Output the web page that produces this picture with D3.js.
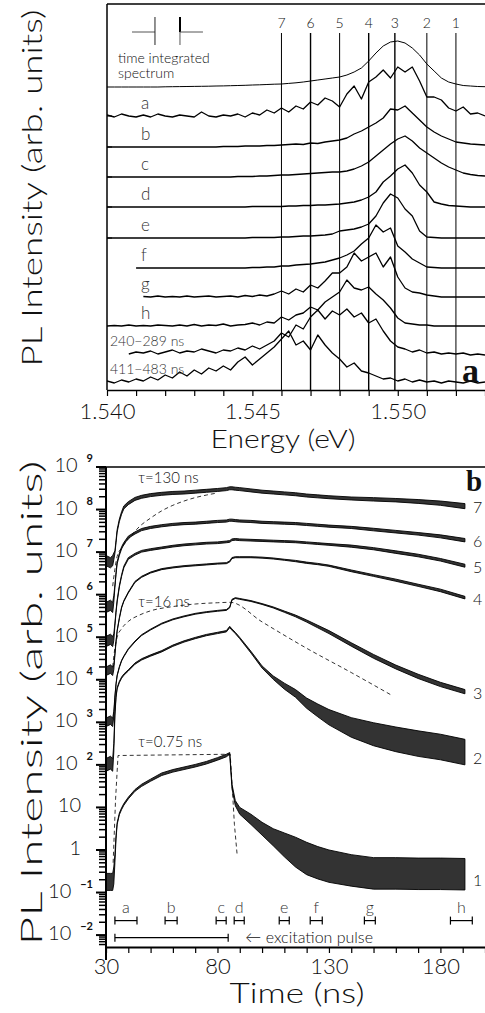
<!DOCTYPE html>
<html>
<head>
<meta charset="utf-8">
<script src="https://cdn.jsdelivr.net/npm/d3@7"></script>
<style>
body { margin: 0; background: #fff; }
svg text { font-family: Lato, "DejaVu Sans", sans-serif; font-weight: 300; fill: #111; }
.serif { font-family: "Liberation Serif", "DejaVu Serif", serif; font-weight: bold; }
</style>
</head>
<body>
<div id="chart"></div>
<script>
const width = 485;
const height = 1013;

// ---------- panel a : spectra (height above own baseline, arb. units) ----------
const eStart = 1.540;
const eStep = 0.00025;

const specLabels  = ["time integrated spectrum", "a", "b", "c", "d", "e", "f", "g", "h", "240\u2212289  ns", "411\u2212483  ns"];
const specOffsets = [303, 274, 243, 213, 183, 152, 122, 93, 64, 35, 7];
const specStart   = [1.540, 1.540, 1.540, 1.540, 1.540, 1.540, 1.541, 1.5412, 1.540, 1.5406, 1.540];

const specTI = [0,0,0,0,0,0,0,0, 0.2,0.3,0.4,0.5,0.6,0.7,0.8,1.0, 1.1,1.3,1.5,1.7,2.0,2.2,2.5,2.8,
  3.0,3.6,4.2,5.0,6.0,7.0,8.0,9.0, 10,12,15,19,26,34,41,45, 46,44,39,32,23,16,9,5, 3,1.5,1,0.5,0.3];
const specA = [1,-1,2,0,-1,1,-1,2, 0,-1,1,0,-1,4,0,-1, 1,0,2,-1,3,1,6,3,
  8,4,10,7,14,11,18,15, 9,22,30,17,34,39,46,38, 49,44,49,35,19,19,16,8, 5,9,2,3,0];
const specB = [0,0,0,0,0,0,0,0, 0,0,0,0,0,0,0,0, 0.5,0.5,0.5,1,1,1,1.5,1.5,
  2,2.5,3,2.5,4,3.5,5,6, 7,9,13,16,20,24,29,38, 37,41,34,27,20,15,11,8, 5,4,3,2.5,2];
const specC = [0,0,0,0,0,0,0,0, 0,0,0,0,0,0,0,0, 0,0,0.5,0.5,0.5,1,1,1.5,
  2,2,2.5,3,3.5,4,4.5,5, 5,6,8,11,15,21,27,33, 38,41,36,29,24,19,14,10, 7,4,2.5,1.5,1];
const specD = [0,0,0,0,0,0,0,0, 0,0,0,0,0,0,0,0, 0,0,0,0,0.5,0.5,0.5,0.5,
  0.5,1,1,1.5,1.5,2,2,2.5, 3,4,5,7,10,15,25,31, 38,42,34,22,15,5,3,1.5, 1,0.5,0,0,0];
const specE = [0,0,0,0,0,0,0,0, 0,0,0,0,0,0,0,0, 0,0,0,0,0.5,0.5,0.5,0.5,
  1,1,1.5,2,2,2.5,3,4, 7,8,9,11,14,22,35,44, 40,29,22,7,1,0.5,0,0, 0,0,0,0,0];
const specF = [0,0,0,0,0,0,0,0, 0,0,0,0,0,0,0,0, 0,0,0,0,0.5,0.5,1,1,
  2,2,3,3.5,4,5,6,8, 10,13,17,24,30,43,36,40, 22,16,9,5,1,0.5,0,0, 0,0,0,0,0];
const specG = [0,0,0,0,0,0.5,0,1, 0,0.5,0,1,0,0.5,1,0, 0.5,1,0,1.5,0.5,2,1,3,
  6,3,8,5,12,9,16,24, 24,30,44,36,40,44,30,40, 20,9,5,4,2,1,0,0, 0,0,0,0,0];
const specH = [0,0.5,0,1,0,0.5,0,1, 0.5,0,1,0,1.5,0,1,0.5, 2,0,1,1.5,3,1,4,3,
  9,6,11,13,19,16,24,29, 34,46,38,36,39,32,26,18, 8,3,2,1,1,0,0,0, 0,0,0,0,0];
const spec240 = [0,0,0,1,3,2,4,1, 3,5,2,4,3,6,4,2, 5,4,7,5,9,6,10,14,
  22,18,30,26,38,45,36,44, 40,46,38,42,32,36,24,14, 8,6,3,5,2,3,1,2, 1,2,0,1,0];
const spec411 = [2,0,3,1,4,2,6,3, 8,5,11,7,13,9,15,12, 17,13,21,26,18,24,30,36,
  44,52,38,42,33,48,38,30, 24,16,20,12,10,7,4,5, 2,4,1,3,1,2,0,2, 1,0,2,0,1];

const spectra = [specTI, specA, specB, specC, specD, specE, specF, specG, specH, spec240, spec411];

// energies of the vertical marker lines
const lineEnergies = [1.546, 1.547, 1.548, 1.549, 1.5499, 1.551, 1.552];
const lineLabels   = ["7", "6", "5", "4", "3", "2", "1"];

// ---------- panel b : decays (log10 of intensity, noise half width in decades) ----------
const tGrid = [30, 32, 33, 33.5, 34, 34.5, 35, 36, 37, 38, 40, 43, 46, 50, 55, 60, 65, 70, 75, 80,
  84, 85.5, 86.5, 88, 90, 95, 100, 105, 110, 115, 120, 125, 130, 140, 150, 160, 170, 180, 191];

const c7L = [6.8,6.75,6.8,6.9,7.0,7.25,7.5,7.75,7.92,8.05, 8.15,8.25,8.3,8.34,8.37,8.39,8.4,8.42,8.44,8.46,
  8.48,8.5,8.5,8.49,8.48,8.45,8.42,8.4,8.38,8.36, 8.33,8.31,8.29,8.26,8.24,8.22,8.19,8.15,8.08];
const c7W = [0.12,0.12,0.12,0.08,0.03,0.03,0.03,0.03,0.03,0.035, 0.035,0.035,0.035,0.035,0.035,0.035,0.035,0.035,0.035,0.035,
  0.035,0.035,0.035,0.035,0.035,0.035,0.035,0.035,0.035,0.035, 0.035,0.035,0.035,0.035,0.04,0.04,0.045,0.05,0.06];
const c6L = [5.7,5.75,5.7,5.9,6.2,6.5,6.75,6.95,7.1,7.2, 7.35,7.45,7.53,7.58,7.62,7.65,7.67,7.68,7.7,7.72,
  7.73,7.75,7.75,7.74,7.73,7.72,7.7,7.69,7.68,7.67, 7.65,7.63,7.61,7.58,7.53,7.48,7.43,7.37,7.28];
const c6W = [0.12,0.12,0.12,0.08,0.03,0.025,0.025,0.025,0.025,0.025, 0.025,0.025,0.025,0.025,0.025,0.025,0.025,0.025,0.025,0.025,
  0.025,0.025,0.025,0.025,0.025,0.025,0.025,0.025,0.025,0.025, 0.025,0.025,0.025,0.025,0.03,0.03,0.03,0.035,0.04];
const c5L = [4.9,4.95,4.9,5.0,5.3,5.6,5.85,6.2,6.45,6.65, 6.85,6.95,7.02,7.06,7.1,7.14,7.17,7.19,7.21,7.22,
  7.24,7.25,7.29,7.3,7.29,7.28,7.27,7.26,7.25,7.24, 7.22,7.2,7.18,7.14,7.08,7.0,6.92,6.82,6.68];
const c5W = [0.12,0.12,0.12,0.08,0.03,0.02,0.02,0.02,0.02,0.02, 0.02,0.02,0.02,0.02,0.02,0.02,0.02,0.02,0.02,0.02,
  0.02,0.02,0.02,0.02,0.02,0.02,0.02,0.02,0.02,0.02, 0.02,0.02,0.02,0.025,0.025,0.03,0.03,0.03,0.035];
const c4L = [4.2,4.25,4.2,4.3,4.6,4.9,5.15,5.45,5.7,5.85, 6.05,6.3,6.42,6.52,6.6,6.64,6.67,6.69,6.71,6.73,
  6.74,6.78,6.86,6.88,6.88,6.88,6.87,6.85,6.82,6.79, 6.75,6.72,6.68,6.56,6.45,6.34,6.22,6.1,5.93];
const c4W = [0.1,0.1,0.1,0.06,0.02,0.012,0.012,0.012,0.012,0.012, 0.012,0.012,0.012,0.012,0.012,0.012,0.012,0.012,0.012,0.012,
  0.012,0.012,0.012,0.012,0.012,0.012,0.012,0.012,0.012,0.015, 0.015,0.015,0.015,0.02,0.02,0.025,0.025,0.03,0.03];
const c3L = [3.0,3.05,3.0,3.2,3.6,3.9,4.1,4.3,4.45,4.55, 4.72,4.9,5.05,5.18,5.32,5.42,5.49,5.55,5.59,5.62,
  5.64,5.7,5.88,5.92,5.9,5.85,5.78,5.7,5.6,5.5, 5.38,5.25,5.12,4.83,4.55,4.3,4.08,3.89,3.72];
const c3W = [0.1,0.1,0.1,0.06,0.02,0.01,0.01,0.01,0.01,0.01, 0.01,0.01,0.01,0.01,0.01,0.01,0.01,0.01,0.01,0.01,
  0.01,0.01,0.01,0.01,0.01,0.01,0.01,0.012,0.015,0.02, 0.025,0.03,0.035,0.04,0.045,0.045,0.05,0.05,0.05];
const c2L = [2.0,2.05,2.0,2.4,3.2,3.6,3.8,3.95,4.05,4.12, 4.22,4.38,4.48,4.57,4.67,4.8,4.9,4.98,5.05,5.1,
  5.14,5.24,5.18,5.1,4.98,4.65,4.3,4.05,3.85,3.68, 3.45,3.28,3.12,2.88,2.72,2.6,2.5,2.42,2.3];
const c2W = [0.15,0.15,0.15,0.1,0.05,0.015,0.015,0.015,0.015,0.015, 0.015,0.015,0.015,0.015,0.015,0.015,0.015,0.015,0.015,0.015,
  0.015,0.015,0.015,0.015,0.015,0.02,0.025,0.04,0.07,0.09, 0.12,0.15,0.18,0.23,0.27,0.29,0.3,0.3,0.3];
const c1L = [-0.75,-0.75,-0.75,-0.6,-0.2,0.3,0.62,0.85,0.97,1.07, 1.22,1.4,1.52,1.64,1.78,1.86,1.92,1.98,2.05,2.14,
  2.22,2.27,1.5,1.1,0.92,0.72,0.5,0.3,0.12,-0.05, -0.2,-0.3,-0.38,-0.48,-0.55,-0.55,-0.56,-0.56,-0.57];
const c1W = [0.2,0.2,0.2,0.2,0.1,0.04,0.02,0.02,0.02,0.02, 0.02,0.02,0.025,0.025,0.03,0.03,0.03,0.03,0.03,0.03,
  0.03,0.02,0.05,0.06,0.08,0.12,0.15,0.2,0.28,0.35, 0.38,0.38,0.38,0.37,0.37,0.37,0.37,0.37,0.37];

const curveLabels = ["7", "6", "5", "4", "3", "2", "1"];
const curveL = [c7L, c6L, c5L, c4L, c3L, c2L, c1L];
const curveW = [c7W, c6W, c5W, c4W, c3W, c2W, c1W];

// dashed fits
const fit7T = [33, 34, 35, 37, 40, 45, 50, 55, 60, 65, 70, 75, 80];
const fit7L = [6.2, 6.6, 6.9, 7.1, 7.3, 7.6, 7.8, 7.97, 8.1, 8.2, 8.28, 8.34, 8.39];
const fit3T = [33, 34, 35, 37, 40, 45, 50, 60, 70, 80, 85.7, 100, 120, 140, 158];
const fit3L = [4.3, 4.75, 5.0, 5.2, 5.37, 5.52, 5.62, 5.72, 5.78, 5.81, 5.82, 5.36, 4.74, 4.17, 3.64];
const fit1T = [33.2, 34.3, 35.4, 85.7, 86.6, 87.6, 88.8];
const fit1L = [-0.3, 1.2, 2.22, 2.25, 1.5, 0.6, -0.1];
const fitLabels = ["\u03c4=130  ns", "\u03c4=16  ns", "\u03c4=0.75  ns"];

// time windows of the spectra and the excitation pulse (ns)
const windowLabels = ["a", "b", "c", "d", "e", "f", "g", "h"];
const windowStart  = [34.0, 56.5, 79.4, 87.5, 107.7, 121.6, 145.9, 184.5];
const windowEnd    = [43.9, 61.9, 83.9, 92.0, 112.2, 127.0, 150.8, 194.3];
const pulse = [34.0, 84.8];

const svg = d3.select("#chart").append("svg")
   .attr("width", width)
   .attr("height", height);

// ================= panel a =================
const xA = d3.scaleLinear().domain([1.540, 1.553]).range([107, 485]);
const yA = d3.scaleLinear().domain([0, 386]).range([390, 4]);

svg.append("clipPath").attr("id", "clipA")
   .append("rect").attr("x", xA(1.540)).attr("y", yA(386)).attr("width", 378).attr("height", 386);
svg.append("clipPath").attr("id", "clipB")
   .append("rect").attr("x", 106).attr("y", 467).attr("width", 379).attr("height", 480);

const gA = svg.append("g").attr("clip-path", "url(#clipA)");

// vertical marker lines
gA.selectAll("line.mark")
   .data(lineEnergies)
   .enter()
   .append("line")
   .attr("x1", d => xA(d)).attr("x2", d => xA(d))
   .attr("y1", yA(357)).attr("y2", yA(0))
   .attr("stroke", "#000")
   .attr("stroke-width", (d, i) => (i == 1 || i == 3 || i == 4) ? 1.4 : 1);

const lineA = d3.line().x(d => xA(d[0])).y(d => yA(d[1]));
spectra.forEach((vals, k) => {
   const pts = [];
   vals.forEach((v, i) => {
      const e = eStart + i * eStep;
      if (e >= specStart[k] - 1e-9) pts.push([e, specOffsets[k] + v]);
   });
   gA.append("path")
      .attr("d", lineA(pts))
      .attr("fill", "none")
      .attr("stroke", "#000")
      .attr("stroke-width", k == 0 ? 1 : 1.3)
      .attr("stroke-linejoin", "round");
});

svg.selectAll("text.lineLabel")
   .data(lineLabels)
   .enter()
   .append("text")
   .attr("x", (d, i) => xA(lineEnergies[i]))
   .attr("y", 28)
   .attr("text-anchor", "middle")
   .style("font-size", "14px")
   .text(d => d);

// resolution marker top left
const res = [1.54086, 1.54165, 1.54251, 1.5433];
const resG = svg.append("g").attr("stroke", "#555").attr("stroke-width", 1);
resG.append("line").attr("x1", xA(res[0])).attr("x2", xA(res[1])).attr("y1", yA(358)).attr("y2", yA(358));
resG.append("line").attr("x1", xA(res[1])).attr("x2", xA(res[1])).attr("y1", yA(373)).attr("y2", yA(345)).attr("stroke", "#222");
resG.append("line").attr("x1", xA(res[2])).attr("x2", xA(res[2])).attr("y1", yA(373)).attr("y2", yA(345));
resG.append("line").attr("x1", xA(res[2])).attr("x2", xA(res[2])).attr("y1", yA(373)).attr("y2", yA(358)).attr("stroke", "#000").attr("stroke-width", 2);
resG.append("line").attr("x1", xA(res[2])).attr("x2", xA(res[3])).attr("y1", yA(358)).attr("y2", yA(358));

// spectrum labels
svg.append("text").attr("x", 118).attr("y", 63).style("font-size", "14px").text("time integrated");
svg.append("text").attr("x", 118).attr("y", 78).style("font-size", "14px").text("spectrum");
specLabels.forEach((lab, k) => {
   if (k == 0) return;
   const long = k >= 9;
   svg.append("text")
      .attr("x", long ? 110 : 141)
      .attr("y", yA(specOffsets[k] + (long ? 9 : 7)))
      .style("font-size", long ? "14px" : "17px")
      .style("fill", "#333")
      .text(lab);
});

// frame a
svg.append("line").attr("x1", 107).attr("x2", 107).attr("y1", yA(386)).attr("y2", yA(0)).attr("stroke", "#000").attr("stroke-width", 1.5);
svg.append("line").attr("x1", 107).attr("x2", 485).attr("y1", yA(386)).attr("y2", yA(386)).attr("stroke", "#000").attr("stroke-width", 1.5);
svg.selectAll("line.ltick")
   .data(specOffsets.slice(1, 6))
   .enter()
   .append("line")
   .attr("x1", 107).attr("x2", 112)
   .attr("y1", d => yA(d)).attr("y2", d => yA(d))
   .attr("stroke", "#000");

const axA = svg.append("g")
   .attr("transform", `translate(0,${yA(0)})`)
   .call(d3.axisBottom(xA)
      .tickValues(d3.range(0, 14).map(i => 1.540 + i * 0.001))
      .tickSize(6)
      .tickSizeOuter(0)
      .tickFormat((d, i) => (i % 5 == 0) ? d3.format(".3f")(d) : ""));
axA.select(".domain").attr("stroke-width", 1.5);
axA.selectAll(".tick line").attr("stroke-width", 1.2);
axA.selectAll(".tick text").style("font-size", "22px").attr("dy", "0.9em").attr("fill", "#111")
   .style("font-family", "Lato, 'DejaVu Sans', sans-serif").style("font-weight", 300);

svg.append("text").attr("class", "serif").attr("x", 462).attr("y", 382).style("font-size", "34px").text("a");

svg.append("text")
   .attr("x", 283).attr("y", 448)
   .attr("text-anchor", "middle")
   .attr("textLength", 145).attr("lengthAdjust", "spacingAndGlyphs")
   .style("font-size", "26px")
   .text("Energy  (eV)");

svg.append("text")
   .attr("transform", "translate(42,188) rotate(-90)")
   .attr("text-anchor", "middle")
   .attr("textLength", 357).attr("lengthAdjust", "spacingAndGlyphs")
   .style("font-size", "28px")
   .text("PL  Intensity  (arb.  units)");

// ================= panel b =================
const xB = d3.scaleLinear().domain([30, 200]).range([106, 485]);
const yB = d3.scaleLog().domain([Math.pow(10, -2.28), 1e9]).range([947, 467]);
const yL = L => yB(Math.pow(10, L));

const gB = svg.append("g").attr("clip-path", "url(#clipB)");

const band = d3.area()
   .x(d => xB(d.t))
   .y0(d => yL(d.L - d.W))
   .y1(d => yL(d.L + d.W));

curveL.forEach((L, k) => {
   const pts = tGrid.map((t, i) => ({t: t, L: L[i], W: curveW[k][i]}));
   gB.append("path")
      .attr("d", band(pts))
      .attr("fill", "#000")
      .attr("fill-opacity", 0.8)
      .attr("stroke", "#000")
      .attr("stroke-width", 0.9)
      .attr("stroke-linejoin", "round");
});

const fitLine = d3.line().x(d => xB(d[0])).y(d => yL(d[1]));
[[fit7T, fit7L], [fit3T, fit3L], [fit1T, fit1L]].forEach((f, k) => {
   gB.append("path")
      .attr("d", fitLine.curve(k == 2 ? d3.curveLinear : d3.curveMonotoneX)(f[0].map((t, i) => [t, f[1][i]])))
      .attr("fill", "none")
      .attr("stroke", "#000")
      .attr("stroke-width", 0.8)
      .attr("stroke-dasharray", "4,3");
});

const fitLabelL = [8.62, 5.71, 2.41];
fitLabels.forEach((lab, k) => {
   svg.append("text")
      .attr("x", xB(44.5)).attr("y", yL(fitLabelL[k]))
      .style("font-size", "15px")
      .text(lab);
});

// curve numbers at right
curveLabels.forEach((lab, k) => {
   const L = curveL[k];
   svg.append("text")
      .attr("x", 473).attr("y", yL(L[L.length - 1]) + (k >= 5 ? 6 : 1) + 6)
      .style("font-size", "16px")
      .style("fill", "#111")
      .text(lab);
});

// time windows
const winY = yL(-1.66);
const gW = svg.append("g").attr("stroke", "#000").attr("stroke-width", 1.2);
windowStart.forEach((s, i) => {
   const x0 = xB(s), x1 = xB(windowEnd[i]);
   gW.append("line").attr("x1", x0).attr("x2", x1).attr("y1", winY).attr("y2", winY);
   gW.append("line").attr("x1", x0).attr("x2", x0).attr("y1", winY - 4).attr("y2", winY + 4);
   gW.append("line").attr("x1", x1).attr("x2", x1).attr("y1", winY - 4).attr("y2", winY + 4);
   svg.append("text")
      .attr("x", (x0 + x1) / 2).attr("y", yL(-1.47))
      .attr("text-anchor", "middle")
      .style("font-size", "16px")
      .style("fill", "#333")
      .text(windowLabels[i]);
});
const pY = yL(-2.06);
gW.append("line").attr("x1", xB(pulse[0])).attr("x2", xB(pulse[1])).attr("y1", pY).attr("y2", pY);
gW.append("line").attr("x1", xB(pulse[0])).attr("x2", xB(pulse[0])).attr("y1", pY - 4).attr("y2", pY + 4);
gW.append("line").attr("x1", xB(pulse[1])).attr("x2", xB(pulse[1])).attr("y1", pY - 4).attr("y2", pY + 4);
svg.append("text")
   .attr("x", xB(92.5)).attr("y", pY + 5)
   .style("font-size", "16px")
   .text("\u2190 excitation  pulse");

// frame b
svg.append("line").attr("x1", 106).attr("x2", 106).attr("y1", 467).attr("y2", 960).attr("stroke", "#000").attr("stroke-width", 2);
svg.append("line").attr("x1", 106).attr("x2", 485).attr("y1", 467).attr("y2", 467).attr("stroke", "#000").attr("stroke-width", 1.5);

// log ticks
const minorTicks = [];
const majorTicks = [];
for (let k = -3; k <= 8; k++) {
   for (let m = 1; m <= 9; m++) {
      const v = m * Math.pow(10, k);
      if (v < yB.domain()[0] || v > yB.domain()[1]) continue;
      (m == 1 ? majorTicks : minorTicks).push(v);
   }
}
majorTicks.push(1e9);
svg.selectAll("line.minor")
   .data(minorTicks)
   .enter()
   .append("line")
   .attr("x1", 99).attr("x2", 106)
   .attr("y1", d => yB(d)).attr("y2", d => yB(d))
   .attr("stroke", "#000").attr("stroke-width", 1.5);
svg.selectAll("line.major")
   .data(majorTicks)
   .enter()
   .append("line")
   .attr("x1", 96).attr("x2", 106)
   .attr("y1", d => yB(d)).attr("y2", d => yB(d))
   .attr("stroke", "#000").attr("stroke-width", 2);

majorTicks.forEach(v => {
   const k = Math.round(Math.log10(v));
   const t = svg.append("text")
      .attr("y", yB(v))
      .attr("dominant-baseline", "middle")
      .attr("text-anchor", "end")
      .style("font-size", "20px");
   if (k == 0 || k == 1) {
      t.attr("x", 81).text(k == 0 ? "1" : "10");
   } else {
      t.attr("x", 93);
      t.append("tspan").text("10");
      t.append("tspan").attr("dx", 9).attr("dy", -8)
         .style("font-size", "11px").style("font-weight", "bold")
         .text(k < 0 ? "\u2212" + (-k) : k);
   }
});

const axB = svg.append("g")
   .attr("transform", "translate(0,947)")
   .call(d3.axisBottom(xB)
      .tickValues(d3.range(30, 201, 10))
      .tickSize(6)
      .tickSizeOuter(0)
      .tickFormat(d => ((d - 30) % 50 == 0 && d < 200) ? d : ""));
axB.select(".domain").attr("stroke-width", 2);
axB.selectAll(".tick line").attr("stroke-width", 1.2);
axB.selectAll(".tick text").style("font-size", "22px").attr("dy", "0.8em").attr("fill", "#111")
   .style("font-family", "Lato, 'DejaVu Sans', sans-serif").style("font-weight", 300);

svg.append("text").attr("class", "serif").attr("x", 466).attr("y", 491).style("font-size", "29px").text("b");

svg.append("text")
   .attr("x", 297).attr("y", 1003)
   .attr("text-anchor", "middle")
   .attr("textLength", 135).attr("lengthAdjust", "spacingAndGlyphs")
   .style("font-size", "27px")
   .text("Time  (ns)");

svg.append("text")
   .attr("transform", "translate(42,703) rotate(-90)")
   .attr("text-anchor", "middle")
   .attr("textLength", 485).attr("lengthAdjust", "spacingAndGlyphs")
   .style("font-size", "30px")
   .text("PL  Intensity  (arb.  units)");
</script>
</body>
</html>
